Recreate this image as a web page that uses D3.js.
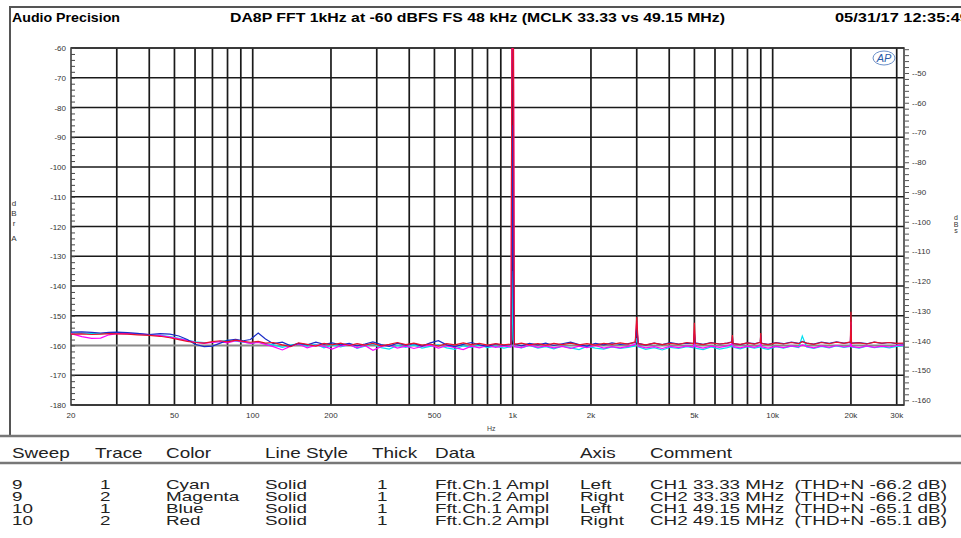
<!DOCTYPE html>
<html>
<head>
<meta charset="utf-8">
<script src="https://d3js.org/d3.v7.min.js"></script>
<style>
  body { margin: 0; background: #fff; }
  svg { display: block; }
</style>
</head>
<body>
<div id="chart"></div>
<script>
// FFT bins (Hz), shared by all four traces
var freqs = [
  20, 22, 24, 26, 28, 30, 33, 36, 40, 44,
  48, 52, 56, 60, 65, 70, 75, 80, 86, 92,
  98, 105, 112, 120, 130, 140, 150, 162, 175, 188,
  202, 218, 235, 252, 270, 290, 312, 335, 360, 388,
  417, 448, 482, 518, 557, 600, 645, 693, 745, 800,
  860, 925, 985, 993, 1000, 1007, 1015, 1080, 1160, 1250,
  1340, 1440, 1550, 1670, 1800, 1930, 2080, 2240, 2410, 2590,
  2780, 2960, 3000, 3040, 3250, 3500, 3760, 4040, 4350, 4680,
  4960, 5000, 5040, 5400, 5800, 6250, 6700, 6960, 7000, 7040,
  7500, 8000, 8500, 8960, 9000, 9040, 9600, 10300, 11000, 11800,
  12600, 13000, 13500, 14400, 15400, 16500, 17600, 18800, 19900, 20000,
  20100, 21500, 23000, 24600, 26300, 28100, 30000, 31800
];

// sweep 9 trace 1 (Cyan) - left axis, dBrA
var cyanVals = [
  -155.8, -155.9, -156.0, -156.0, -155.9, -155.9, -156.0, -156.2, -156.4, -156.6,
  -157.0, -157.6, -158.2, -158.8, -159.0, -158.9, -158.6, -158.3, -158.5, -158.9,
  -159.2, -158.8, -159.4, -159.8, -160.6, -159.9, -159.4, -160.2, -159.6, -160.8,
  -159.9, -160.5, -159.6, -161.0, -160.2, -159.5, -160.7, -161.2, -160.0, -160.6,
  -159.8, -160.9, -160.3, -159.7, -160.8, -161.3, -160.1, -160.6, -159.9, -160.7,
  -160.2, -160.9, -160.4, -158.0, -135.0, -158.2, -160.3, -160.8, -160.0, -160.9,
  -160.4, -161.1, -160.2, -160.8, -161.4, -160.3, -160.9, -161.2, -160.5, -161.0,
  -160.6, -160.2, -157.5, -160.4, -161.3, -160.7, -161.5, -160.6, -161.0, -160.4,
  -160.8, -158.5, -160.9, -161.4, -160.5, -161.2, -160.7, -160.3, -159.0, -160.6,
  -161.1, -160.4, -160.9, -160.5, -159.2, -160.8, -161.3, -160.4, -160.9, -160.2,
  -160.7, -156.8, -160.5, -161.0, -160.3, -160.8, -160.1, -160.6, -160.3, -157.0,
  -160.5, -160.9, -160.2, -160.7, -160.4, -160.8, -160.3, -160.1
];

// sweep 9 trace 2 (Magenta) - right axis
var magentaVals = [
  -137.6, -138.6, -139.2, -139.1, -138.0, -137.6, -137.6, -137.7, -137.9, -138.3,
  -138.8, -139.4, -139.9, -140.5, -140.9, -140.6, -140.3, -140.7, -140.0, -140.4,
  -140.9, -140.6, -141.2, -142.0, -143.1, -141.8, -141.1, -142.4, -141.5, -141.9,
  -142.8, -141.7, -141.3, -142.4, -141.6, -143.2, -142.0, -141.4, -142.5, -141.8,
  -142.6, -141.9, -141.5, -142.5, -141.7, -142.3, -143.0, -141.8, -142.4, -141.6,
  -142.2, -141.7, -142.1, -42.1, -41.6, -42.1, -142.0, -142.3, -141.5, -142.2,
  -141.7, -142.4, -141.9, -142.6, -141.8, -142.3, -141.6, -142.5, -142.0, -142.4,
  -141.9, -141.2, -133.6, -141.8, -142.4, -142.0, -142.6, -141.9, -142.3, -141.7,
  -142.1, -136.6, -141.9, -142.5, -141.8, -142.2, -141.7, -141.2, -140.1, -142.0,
  -142.4, -141.8, -142.2, -141.6, -139.6, -142.0, -142.5, -141.9, -142.3, -141.7,
  -142.1, -141.4, -141.9, -142.4, -141.7, -142.2, -141.6, -142.1, -141.8, -133.6,
  -141.9, -142.3, -141.7, -142.2, -141.8, -142.1, -141.6, -141.5
];

// sweep 10 trace 1 (Blue) - left axis
var blueVals = [
  -155.5, -155.4, -155.6, -155.8, -155.6, -155.5, -155.7, -155.9, -156.3, -156.0,
  -156.2, -156.8, -158.0, -159.6, -160.4, -160.2, -159.2, -158.3, -157.9, -158.4,
  -158.0, -155.8, -157.8, -159.4, -158.9, -160.1, -159.3, -159.8, -158.9, -159.6,
  -159.1, -159.8, -159.3, -160.1, -159.5, -158.8, -159.7, -160.3, -159.2, -159.9,
  -159.4, -160.2, -159.1, -158.4, -159.8, -160.4, -159.6, -159.0, -159.8, -160.3,
  -159.5, -160.0, -159.6, -134.6, -86.0, -150.0, -159.4, -160.1, -159.3, -159.8,
  -159.2, -160.0, -159.4, -158.9, -159.7, -160.2, -159.3, -159.8, -159.1, -159.6,
  -159.4, -159.0, -154.0, -159.3, -159.9, -159.2, -159.7, -159.0, -159.5, -159.2,
  -159.3, -156.0, -159.1, -159.6, -159.0, -159.5, -159.2, -158.8, -157.0, -159.3,
  -159.7, -159.1, -159.4, -158.9, -156.5, -159.2, -159.6, -159.0, -159.4, -158.9,
  -159.3, -158.6, -159.2, -159.5, -158.9, -159.3, -158.8, -159.2, -159.0, -153.0,
  -159.2, -159.0, -159.4, -158.9, -159.3, -159.0, -159.4, -159.5
];

// sweep 10 trace 2 (Red) - right axis
var redVals = [
  -137.8, -137.7, -137.9, -137.8, -137.6, -137.7, -137.8, -138.0, -138.2, -138.5,
  -139.0, -139.6, -140.2, -140.6, -140.8, -140.3, -140.0, -140.4, -139.8, -140.2,
  -140.5, -140.2, -140.8, -140.6, -141.4, -142.0, -140.7, -141.2, -141.8, -140.9,
  -141.4, -140.8, -141.6, -141.0, -141.5, -140.9, -141.7, -141.2, -140.6, -141.3,
  -140.8, -141.5, -141.1, -141.8, -141.0, -141.4, -140.7, -141.3, -140.9, -141.5,
  -141.0, -141.4, -141.1, -40.0, -40.0, -40.0, -141.2, -140.8, -141.4, -141.0,
  -141.5, -140.9, -141.3, -140.8, -141.4, -141.0, -141.5, -140.9, -141.2, -140.7,
  -141.1, -140.4, -132.0, -141.0, -141.4, -140.8, -141.3, -140.9, -141.2, -140.6,
  -141.0, -134.0, -140.9, -141.3, -140.7, -141.1, -140.8, -140.5, -138.1, -141.0,
  -141.2, -140.7, -141.1, -140.5, -137.4, -140.9, -141.3, -140.7, -141.1, -140.6,
  -141.0, -140.3, -140.8, -141.2, -140.6, -141.0, -140.5, -140.9, -140.4, -130.3,
  -140.9, -140.7, -141.1, -140.5, -140.8, -140.6, -140.9, -140.8
];

var xTickValues = [20, 50, 100, 200, 500, 1000, 2000, 5000, 10000, 20000, 30000];
var xTickLabels = ["20", "50", "100", "200", "500", "1k", "2k", "5k", "10k", "20k", "30k"];
var leftTicks = [-60, -70, -80, -90, -100, -110, -120, -130, -140, -150, -160, -170, -180];
var rightTicks = [-50, -60, -70, -80, -90, -100, -110, -120, -130, -140, -150, -160];

var tableHead = ["Sweep", "Trace", "Color", "Line Style", "Thick", "Data", "Axis", "Comment"];
var tableRows = [
  ["9", "1", "Cyan", "Solid", "1", "Fft.Ch.1 Ampl", "Left", "CH1 33.33 MHz  (THD+N -66.2 dB)"],
  ["9", "2", "Magenta", "Solid", "1", "Fft.Ch.2 Ampl", "Right", "CH2 33.33 MHz  (THD+N -66.2 dB)"],
  ["10", "1", "Blue", "Solid", "1", "Fft.Ch.1 Ampl", "Left", "CH1 49.15 MHz  (THD+N -65.1 dB)"],
  ["10", "2", "Red", "Solid", "1", "Fft.Ch.2 Ampl", "Right", "CH2 49.15 MHz  (THD+N -65.1 dB)"]
];

var svgWidth = 961;
var svgHeight = 538;
var plot = { left: 71, right: 904, top: 48, bottom: 405 };

var svg = d3.select("#chart")
  .append("svg")
  .attr("width", svgWidth)
  .attr("height", svgHeight)
  .style("font-family", "'Liberation Sans', Arial, sans-serif");

var x = d3.scaleLog().domain([20, 32000]).range([plot.left, plot.right]);
var yLeft = d3.scaleLinear().domain([-180, -60]).range([plot.bottom, plot.top]);
var yRight = d3.scaleLinear().domain([-161.6, -41.6]).range([plot.bottom, plot.top]);

// outer frame
svg.append("path")
  .attr("d", "M10,436 V7 H961")
  .attr("fill", "none").attr("stroke", "#555").attr("stroke-width", 2);
svg.append("line").attr("x1", 0).attr("x2", svgWidth).attr("y1", 436).attr("y2", 436)
  .attr("stroke", "#777").attr("stroke-width", 2.5);
svg.append("line").attr("x1", 0).attr("x2", svgWidth).attr("y1", 463).attr("y2", 463)
  .attr("stroke", "#777").attr("stroke-width", 2.5);

// header
svg.append("text").attr("x", 12).attr("y", 22).attr("font-size", 13).attr("font-weight", "bold")
  .attr("textLength", 108).attr("lengthAdjust", "spacingAndGlyphs").text("Audio Precision");
svg.append("text").attr("x", 230).attr("y", 22).attr("font-size", 13).attr("font-weight", "bold")
  .attr("textLength", 495).attr("lengthAdjust", "spacingAndGlyphs")
  .text("DA8P FFT 1kHz at -60 dBFS FS 48 kHz (MCLK 33.33 vs 49.15 MHz)");
svg.append("text").attr("x", 835).attr("y", 22).attr("font-size", 13).attr("font-weight", "bold")
  .attr("textLength", 134).attr("lengthAdjust", "spacingAndGlyphs").text("05/31/17 12:35:49");

// grid
var grid = svg.append("g");
grid.selectAll(".vg")
  .data(x.ticks().filter(d => d > 20 && d <= 30000))
  .enter().append("line")
  .attr("x1", d => x(d)).attr("x2", d => x(d))
  .attr("y1", plot.top).attr("y2", plot.bottom)
  .attr("stroke", "#1a1a1a").attr("stroke-width", 1.7);
grid.selectAll(".hg")
  .data(leftTicks)
  .enter().append("line")
  .attr("x1", plot.left).attr("x2", plot.right)
  .attr("y1", d => yLeft(d)).attr("y2", d => yLeft(d))
  .attr("stroke", d => d == -160 ? "#888" : "#1a1a1a")
  .attr("stroke-width", d => d == -160 ? 2.2 : 1.7);
svg.append("rect")
  .attr("x", plot.left).attr("y", plot.top)
  .attr("width", plot.right - plot.left).attr("height", plot.bottom - plot.top)
  .attr("fill", "none").attr("stroke", "#333").attr("stroke-width", 1.5);

// left axis
var leftAxis = d3.axisRight(yLeft)
  .tickValues(d3.range(-180, -59, 2))
  .tickSize(4)
  .tickFormat("");
svg.append("g")
  .attr("transform", `translate(${plot.left}, 0)`)
  .call(leftAxis)
  .call(g => g.select(".domain").remove())
  .call(g => g.selectAll("line").attr("stroke", "#444"));
svg.append("g").selectAll("text")
  .data(leftTicks)
  .enter().append("text")
  .attr("x", plot.left - 5)
  .attr("y", d => yLeft(d) + 3)
  .attr("text-anchor", "end")
  .attr("font-size", 8)
  .attr("fill", "#333")
  .text(d => d);

// right axis
var rightAxis = d3.axisRight(yRight)
  .tickValues(d3.range(-160, -41, 2))
  .tickSize(4)
  .tickFormat("");
svg.append("g")
  .attr("transform", `translate(${plot.right + 1}, 0)`)
  .call(rightAxis)
  .call(g => g.select(".domain").remove())
  .call(g => g.selectAll("line").attr("stroke", "#555"));
svg.append("g").selectAll("text")
  .data(rightTicks)
  .enter().append("text")
  .attr("x", plot.right + 8)
  .attr("y", d => yRight(d) + 3)
  .attr("font-size", 8)
  .attr("fill", "#333")
  .text(d => "-" + d);

// bottom labels
svg.append("g").selectAll("text")
  .data(xTickValues)
  .enter().append("text")
  .attr("x", d => x(d))
  .attr("y", 418)
  .attr("text-anchor", "middle")
  .attr("font-size", 8)
  .attr("fill", "#333")
  .text((d, i) => xTickLabels[i]);
svg.append("text").attr("x", 487).attr("y", 431).attr("font-size", 7).attr("fill", "#444").text("Hz");

// axis titles (stacked letters)
["d", "B", "r", "A"].forEach(function(c, i) {
  svg.append("text").attr("x", 14).attr("y", [206, 216, 226, 241][i])
    .attr("text-anchor", "middle").attr("font-size", 8).attr("fill", "#333").text(c);
});
["d", "B", "s"].forEach(function(c, i) {
  svg.append("text").attr("x", 956).attr("y", [220, 227, 233][i])
    .attr("text-anchor", "middle").attr("font-size", 7).attr("fill", "#333").text(c);
});

// AP logo
svg.append("ellipse").attr("cx", 884).attr("cy", 58).attr("rx", 11).attr("ry", 7)
  .attr("fill", "none").attr("stroke", "#6a8fc8").attr("stroke-width", 1);
svg.append("text").attr("x", 884).attr("y", 62).attr("text-anchor", "middle")
  .attr("font-size", 11).attr("font-style", "italic").attr("fill", "#2a5aa8").text("AP");

// traces
svg.append("clipPath").attr("id", "plotClip")
  .append("rect")
  .attr("x", plot.left).attr("y", plot.top)
  .attr("width", plot.right - plot.left).attr("height", plot.bottom - plot.top);

var traces = [
  { vals: cyanVals, color: "#00e0f0", y: yLeft },
  { vals: magentaVals, color: "#ff00ff", y: yRight },
  { vals: blueVals, color: "#1a2cc8", y: yLeft },
  { vals: redVals, color: "#e8102a", y: yRight }
];

var traceGroup = svg.append("g").attr("clip-path", "url(#plotClip)");
traces.forEach(function(t) {
  var line = d3.line()
    .x((d, i) => x(freqs[i]))
    .y(d => t.y(d));
  traceGroup.append("path")
    .datum(t.vals)
    .attr("d", line)
    .attr("fill", "none")
    .attr("stroke", t.color)
    .attr("stroke-width", 1.2);
});

// legend table
var colX = [12, 95, 166, 265, 372, 435, 580, 650];
var valX = [12, 100, 166, 265, 377, 435, 580, 650];
var table = svg.append("g").attr("fill", "#222");
tableHead.forEach(function(h, i) {
  table.append("text")
    .attr("transform", `translate(${colX[i]}, 458) scale(1.35, 1)`)
    .attr("font-size", 14).text(h);
});
tableRows.forEach(function(row, r) {
  row.forEach(function(cell, i) {
    table.append("text")
      .attr("transform", `translate(${valX[i]}, ${489 + r * 12}) scale(1.45, 1)`)
      .attr("font-size", 13)
      .style("white-space", "pre")
      .text(cell);
  });
});
</script>
</body>
</html>
